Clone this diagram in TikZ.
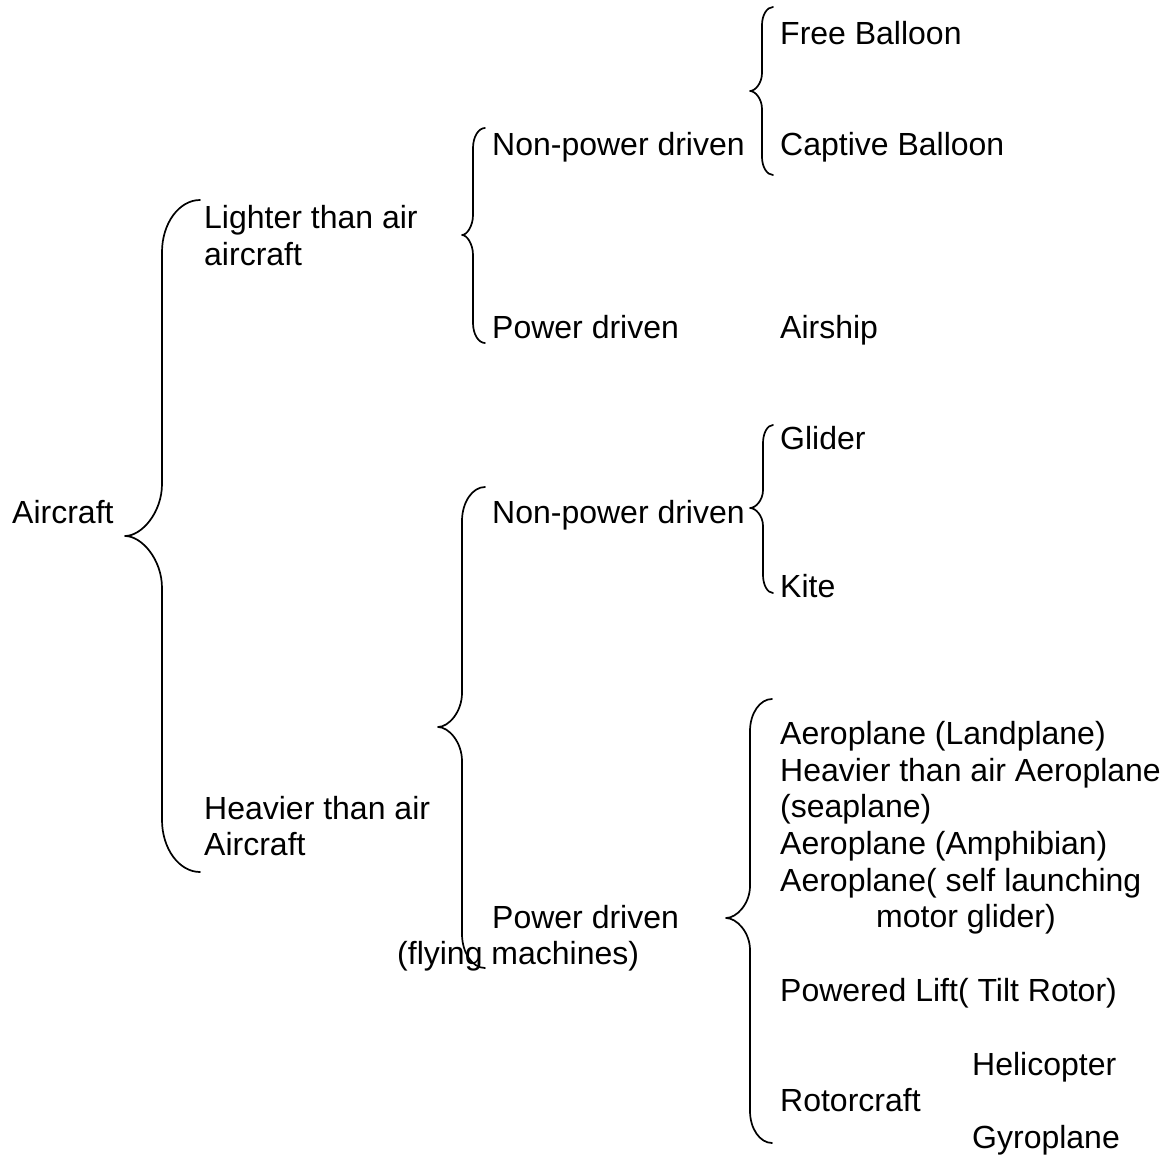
\documentclass[tikz,border=0pt]{standalone}
\usepackage{fontspec}
\setmainfont{Liberation Sans}
\newcommand{\curlybrace}[7]{% x1 xv xp ytop ymid ybot r
 \draw[bracestyle] (#1,#4) .. controls ({#2+0.45*(#1-#2)},#4) and (#2,{#4+0.45*#7}) .. (#2,{#4+#7})
   -- (#2,{#5-#7}) .. controls (#2,{#5-0.45*#7}) and ({#3+0.45*(#2-#3)},#5) .. (#3,#5)
   .. controls ({#3+0.45*(#2-#3)},#5) and (#2,{#5+0.45*#7}) .. (#2,{#5+#7})
   -- (#2,{#6-#7}) .. controls (#2,{#6-0.45*#7}) and ({#2+0.45*(#1-#2)},#6) .. (#1,#6);}
\begin{document}
\begin{tikzpicture}[x=1pt,y=-1pt,
  lbl/.style={anchor=base west,inner sep=0pt,font=\fontsize{32}{36.6}\selectfont},
  bracestyle/.style={line width=1.7pt,line join=round,line cap=round}]
\useasboundingbox (0,0) rectangle (1168,1158);
% level 0
\node[lbl] (aircraft) at (12,523) {Aircraft};
% level 1
\node[lbl] (lighter1) at (204,229) {Lighter than air};
\node[lbl] (lighter2) at (204,266) {aircraft};
\node[lbl] (heavier1) at (204,819) {Heavier than air};
\node[lbl] (heavier2) at (204,855) {Aircraft};
% level 2
\node[lbl] (lnp) at (492,156) {Non-power driven};
\node[lbl] (lp) at (492,339) {Power driven};
\node[lbl] (hnp) at (492,523) {Non-power driven};
\node[lbl] (hp1) at (492,928) {Power driven};
\node[lbl] (hp2) at (397,964) {(flying machines)};
% level 3
\node[lbl] (free) at (780,45) {Free Balloon};
\node[lbl] (captive) at (780,156) {Captive Balloon};
\node[lbl] (airship) at (780,339) {Airship};
\node[lbl] (glider) at (780,449) {Glider};
\node[lbl] (kite) at (780,597) {Kite};
\node[lbl] (a1) at (780,744) {Aeroplane (Landplane)};
\node[lbl] (a2) at (780,781) {Heavier than air Aeroplane};
\node[lbl] (a3) at (780,817) {(seaplane)};
\node[lbl] (a4) at (780,854) {Aeroplane (Amphibian)};
\node[lbl] (a5) at (780,891) {Aeroplane( self launching};
\node[lbl] (a6) at (876,927) {motor glider)};
\node[lbl] (lift) at (780,1001) {Powered Lift( Tilt Rotor)};
\node[lbl] (heli) at (972,1075) {Helicopter};
\node[lbl] (rotor) at (780,1111) {Rotorcraft};
\node[lbl] (gyro) at (972,1148) {Gyroplane};
% braces
\curlybrace{200}{162}{125}{200}{536}{872}{52}
\curlybrace{485}{473}{462}{128}{235}{343}{20}
\curlybrace{773}{762}{750}{7}{91}{175}{18}
\curlybrace{485}{462}{438}{487}{727}{968}{34}
\curlybrace{773}{763}{750}{425}{508}{593}{18}
\curlybrace{772}{750}{726}{699}{918}{1143}{32}
\end{tikzpicture}
\end{document}
